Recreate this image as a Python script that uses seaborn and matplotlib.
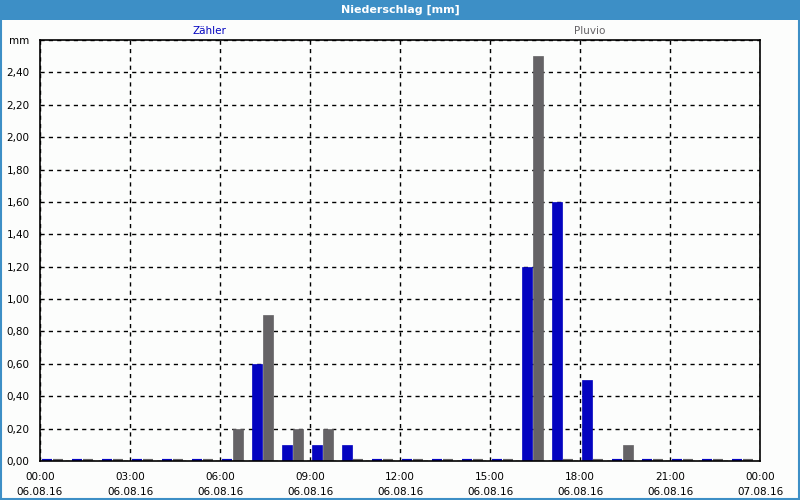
import pandas as pd
import matplotlib

matplotlib.use("Agg")
import matplotlib.pyplot as plt
from matplotlib.patches import Rectangle
import seaborn as sns

# Stundenwerte 06.08.16 00:00 - 07.08.16 00:00
stunden = [f"{h:02d}:00" for h in range(24)]
zaehler = [0, 0, 0, 0, 0, 0, 0, 0.6, 0.1, 0.1, 0.1, 0,
           0, 0, 0, 0, 1.2, 1.6, 0.5, 0, 0, 0, 0, 0]
pluvio = [0, 0, 0, 0, 0, 0, 0.2, 0.9, 0.2, 0.2, 0, 0,
          0, 0, 0, 0, 2.5, 0, 0, 0.1, 0, 0, 0, 0]
reihen = ["Zähler", "Pluvio"]
farben = {"Zähler": "#0404c0", "Pluvio": "#656366"}
x_ticklabels = ["00:00\n06.08.16", "03:00\n06.08.16", "06:00\n06.08.16",
                "09:00\n06.08.16", "12:00\n06.08.16", "15:00\n06.08.16",
                "18:00\n06.08.16", "21:00\n06.08.16", "00:00\n07.08.16"]

df = pd.DataFrame({
    "stunde": stunden * 2,
    "reihe": ["Zähler"] * 24 + ["Pluvio"] * 24,
    "wert": zaehler + pluvio,
})

sns.set_style("white")
plt.rcParams["font.family"] = ["DejaVu Sans"]
plt.rcParams["font.size"] = 7.5

fig = plt.figure(figsize=(8, 5), dpi=100, facecolor="#fcfdfc")
ax = fig.add_axes([0.05, 0.078, 0.9, 0.842])
ax.set_facecolor("#fcfdfc")

sns.barplot(data=df, x="stunde", y="wert", hue="reihe", order=stunden,
            hue_order=reihen, palette=farben, saturation=1, width=0.74,
            gap=0.1, legend=False, ax=ax)

# Nullwerte als kleine Striche sichtbar machen
for p in ax.patches:
    p.set_edgecolor(p.get_facecolor())
    p.set_linewidth(3 if p.get_height() == 0 else 0.5)

off = 0.42
ax.set_xlim(-off, 24 - off)
ax.set_ylim(0, 2.6)

# Achsen / Gitter
ax.set_xticks([i * 3 - off for i in range(9)])
ax.set_xticklabels(x_ticklabels, linespacing=1.6)
ax.set_xticks([i - off for i in range(25)], minor=True)
yt = [i * 0.2 for i in range(14)]
ax.set_yticks(yt)
ax.set_yticklabels([f"{v:.2f}".replace(".", ",") for v in yt[:-1]] + ["mm"])
ax.tick_params(axis="both", which="both", direction="out", length=4,
               width=1, color="black", labelcolor="black")
ax.tick_params(axis="x", which="major", pad=4)
ax.grid(True, which="major", color="black", linestyle=(0, (3, 3)), linewidth=1)
for s in ax.spines.values():
    s.set_visible(True)
    s.set_color("black")
    s.set_linewidth(1.2)
ax.set_xlabel("")
ax.set_ylabel("")

# Titelbalken und Rahmen
fig.patches.append(Rectangle((0, 0.96), 1, 0.04, transform=fig.transFigure,
                             facecolor="#3d8fc6", edgecolor="none", zorder=0))
fig.patches.append(Rectangle((0.001, 0.002), 0.998, 0.996, transform=fig.transFigure,
                             facecolor="none", edgecolor="#3d8fc6", linewidth=1.5))
fig.text(0.5, 0.98, "Niederschlag [mm]", color="white", fontweight="bold",
         ha="center", va="center", fontsize=8)

fig.text(0.262, 0.937, "Zähler", color=farben["Zähler"], ha="center", va="center")
fig.text(0.737, 0.937, "Pluvio", color=farben["Pluvio"], ha="center", va="center")

fig.savefig("out.png", dpi=100, facecolor=fig.get_facecolor())
plt.close(fig)
